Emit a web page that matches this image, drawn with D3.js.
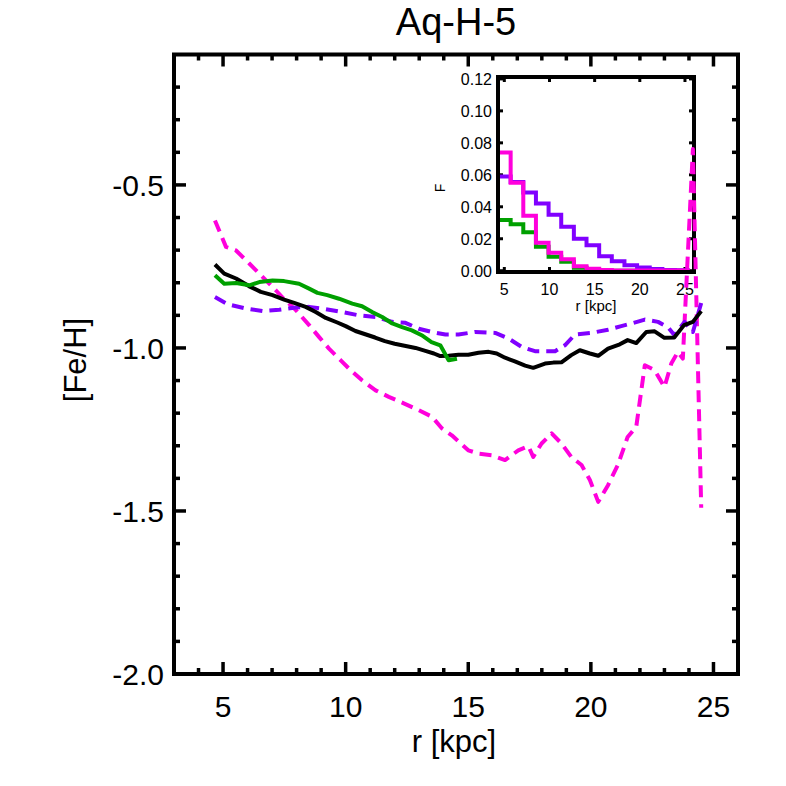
<!DOCTYPE html>
<html><head><meta charset="utf-8">
<script src="https://cdn.jsdelivr.net/npm/d3@7/dist/d3.min.js"></script>
<style>
body{margin:0;background:#fff;}
text{font-family:"Liberation Sans",Arial,Helvetica,sans-serif;fill:#000;}
</style></head>
<body><svg id="c" width="786" height="786"></svg>
<script>
// ---------- data ----------
const title = "Aq-H-5";
const xTicksMain = [5, 10, 15, 20, 25];
const yTicksMain = [-2.0, -1.5, -1.0, -0.5];
const yTickLabels = ["-2.0", "-1.5", "-1.0", "-0.5"];

const rBlack = [4.67,5.05,5.53,6.07,6.54,7.02,7.49,7.90,8.37,8.78,9.19,9.66,10.0,10.4,10.8,11.2,11.6,12.0,12.4,12.85,13.25,13.6,13.86,14.2,14.6,15.0,15.42,15.83,16.16,16.5,16.9,17.32,17.65,18.13,18.47,18.8,19.2,19.55,19.96,20.3,20.7,21.18,21.5,21.85,22.26,22.6,23.0,23.4,23.8,24.16,24.5];
const feBlack = [-0.744,-0.772,-0.787,-0.811,-0.828,-0.838,-0.852,-0.862,-0.874,-0.890,-0.908,-0.922,-0.933,-0.948,-0.958,-0.968,-0.979,-0.987,-0.993,-1.000,-1.009,-1.017,-1.025,-1.024,-1.021,-1.021,-1.015,-1.012,-1.017,-1.030,-1.041,-1.054,-1.061,-1.048,-1.045,-1.044,-1.022,-1.007,-1.017,-1.024,-1.002,-0.989,-0.976,-0.985,-0.951,-0.949,-0.969,-0.968,-0.930,-0.920,-0.887];

const rGreen = [4.67,5.05,5.53,6.07,6.48,7.02,7.49,8.10,8.51,8.85,9.25,9.73,10.27,10.67,11.08,11.49,11.9,12.3,12.7,13.1,13.5,13.86,14.2,14.54];
const feGreen = [-0.777,-0.803,-0.801,-0.808,-0.798,-0.793,-0.795,-0.803,-0.818,-0.831,-0.838,-0.849,-0.864,-0.872,-0.890,-0.905,-0.925,-0.936,-0.946,-0.961,-0.982,-0.992,-1.038,-1.033];

const rPurple = [4.67,5.19,5.93,6.61,7.29,7.97,8.51,9.19,9.86,10.54,11.22,11.9,12.44,12.98,13.52,14.07,14.6,15.28,16.1,16.64,17.18,17.72,18.54,18.94,19.35,20.02,20.7,21.24,21.65,22.2,22.74,23.14,23.41,23.82,24.16,24.5];
const fePurple = [-0.844,-0.866,-0.879,-0.887,-0.883,-0.876,-0.874,-0.881,-0.890,-0.900,-0.905,-0.920,-0.923,-0.941,-0.951,-0.959,-0.959,-0.951,-0.954,-0.971,-0.997,-1.010,-1.010,-0.992,-0.959,-0.954,-0.944,-0.933,-0.925,-0.913,-0.920,-0.936,-0.961,-0.920,-0.951,-0.862];

const rMagenta = [4.67,5.12,5.53,6.07,6.61,7.15,7.42,7.97,8.51,8.91,9.32,9.80,10.2,10.67,11.22,11.76,12.37,12.98,13.52,13.93,14.33,15.0,15.42,15.96,16.5,17.04,17.45,17.65,17.99,18.4,18.8,19.2,19.62,19.96,20.3,20.7,21.1,21.5,21.85,22.2,22.6,23.0,23.28,23.55,23.75,24.16,24.5];
const feMagenta = [-0.609,-0.690,-0.701,-0.741,-0.782,-0.823,-0.845,-0.884,-0.930,-0.966,-1.002,-1.038,-1.068,-1.099,-1.130,-1.150,-1.170,-1.191,-1.211,-1.247,-1.268,-1.314,-1.324,-1.329,-1.344,-1.314,-1.301,-1.334,-1.293,-1.262,-1.293,-1.334,-1.359,-1.405,-1.472,-1.421,-1.359,-1.273,-1.242,-1.053,-1.068,-1.120,-1.048,-1.012,-1.033,-0.390,-1.490];

// inset histogram
const binEdges = [4.3,5.7,7.1,8.5,9.9,11.3,12.7,14.1,15.5,16.9,18.3,19.7,21.1,22.5,23.9,25.3];
const histPurple  = [0.059,0.0555,0.049,0.042,0.035,0.0275,0.020,0.016,0.009,0.006,0.0035,0.002,0.001,0.0005,0.0003];
const histGreen   = [0.0317,0.029,0.024,0.015,0.0088,0.0056,0.0018,0.0006,0.0002,0,0,0,0,0,0];
const histMagenta = [0.0739,0.0551,0.0344,0.0175,0.0113,0.0071,0.0028,0.0012,0.0005,0.0002,0.0001,0.0001,0.0001,0.0001,0.0001];
const insetXTicks = [5, 10, 15, 20, 25];
const insetYTicks = [0, 0.02, 0.04, 0.06, 0.08, 0.10, 0.12];

// ---------- styling ----------
const C_BLACK = "#000000", C_GREEN = "#00a000", C_PURPLE = "#8000ff", C_MAGENTA = "#ff00dc";
const svg = d3.select("#c");
const L = 174, R = 738, T = 54.5, B = 674;
const x = d3.scaleLinear().domain([3, 26]).range([L, R]);
const y = d3.scaleLinear().domain([-2.0, -0.1]).range([B, T]);

// ---------- main frame & ticks ----------
const g = svg.append("g");
function tickLines(vals, orient, len) {
  vals.forEach(v => {
    if (orient === "x") {
      g.append("line").attr("x1", x(v)).attr("x2", x(v)).attr("y1", B).attr("y2", B - len)
        .attr("stroke", "#000").attr("stroke-width", 3.5);
      g.append("line").attr("x1", x(v)).attr("x2", x(v)).attr("y1", T).attr("y2", T + len)
        .attr("stroke", "#000").attr("stroke-width", 3.5);
    } else {
      g.append("line").attr("y1", y(v)).attr("y2", y(v)).attr("x1", L).attr("x2", L + len)
        .attr("stroke", "#000").attr("stroke-width", 3.5);
      g.append("line").attr("y1", y(v)).attr("y2", y(v)).attr("x1", R).attr("x2", R - len)
        .attr("stroke", "#000").attr("stroke-width", 3.5);
    }
  });
}
const xMinor = d3.range(4, 26, 1).filter(v => v % 5 !== 0);
const yMinor = d3.range(-19, -1, 1).map(v => v / 10).filter(v => Math.abs(v * 2 - Math.round(v * 2)) > 1e-6);
tickLines(xTicksMain, "x", 12);
tickLines(xMinor, "x", 6);
tickLines(yTicksMain, "y", 12);
tickLines(yMinor, "y", 6);

g.append("rect").attr("x", L).attr("y", T).attr("width", R - L).attr("height", B - T)
  .attr("fill", "none").attr("stroke", "#000").attr("stroke-width", 4);

svg.selectAll(".xl").data(xTicksMain).enter().append("text")
  .attr("x", d => x(d)).attr("y", 717).attr("text-anchor", "middle")
  .attr("font-size", 30).text(d => d);
svg.selectAll(".yl").data(yTicksMain).enter().append("text")
  .attr("x", 164).attr("y", d => y(d) + 11).attr("text-anchor", "end")
  .attr("font-size", 30).text((d, i) => yTickLabels[i]);

svg.append("text").attr("x", 456).attr("y", 35).attr("text-anchor", "middle")
  .attr("font-size", 38).text(title);
svg.append("text").attr("x", 454).attr("y", 752).attr("text-anchor", "middle")
  .attr("font-size", 31).text("r [kpc]");
svg.append("text").attr("transform", "translate(86,360) rotate(-90)").attr("text-anchor", "middle")
  .attr("font-size", 31).text("[Fe/H]");

// ---------- inset ----------
const iL = 498, iR = 694, iT = 77, iB = 272;
const ix = d3.scaleLinear().domain([4.3, 26]).range([iL, iR]);
const iy = d3.scaleLinear().domain([-0.0008, 0.1212]).range([iB, iT]);
const gi = svg.append("g");
insetXTicks.forEach(v => {
  gi.append("line").attr("x1", ix(v)).attr("x2", ix(v)).attr("y1", iB).attr("y2", iB - 5).attr("stroke", "#000").attr("stroke-width", 3);
  gi.append("line").attr("x1", ix(v)).attr("x2", ix(v)).attr("y1", iT).attr("y2", iT + 5).attr("stroke", "#000").attr("stroke-width", 3);
});
insetYTicks.forEach(v => {
  gi.append("line").attr("y1", iy(v)).attr("y2", iy(v)).attr("x1", iL).attr("x2", iL + 5).attr("stroke", "#000").attr("stroke-width", 3);
  gi.append("line").attr("y1", iy(v)).attr("y2", iy(v)).attr("x1", iR).attr("x2", iR - 5).attr("stroke", "#000").attr("stroke-width", 3);
});
gi.selectAll(".ixl").data(insetXTicks).enter().append("text")
  .attr("x", d => ix(d)).attr("y", 295).attr("text-anchor", "middle").attr("font-size", 16).text(d => d);
gi.selectAll(".iyl").data(insetYTicks).enter().append("text")
  .attr("x", 492).attr("y", d => iy(d) + 6).attr("text-anchor", "end").attr("font-size", 16)
  .text(d => d.toFixed(2));
gi.append("text").attr("x", 596).attr("y", 311).attr("text-anchor", "middle").attr("font-size", 15).text("r [kpc]");
gi.append("text").attr("transform", "translate(445,188) rotate(-90)").attr("text-anchor", "middle").attr("font-size", 14).text("F");

function stepPts(vals) {
  const pts = [[binEdges[0], 0]];
  vals.forEach((v, i) => { pts.push([binEdges[i], v]); pts.push([binEdges[i + 1], v]); });
  pts.push([binEdges[binEdges.length - 1], 0]);
  return pts;
}
const hline = d3.line().x(d => ix(d[0])).y(d => iy(d[1]));
[[histGreen, C_GREEN], [histPurple, C_PURPLE], [histMagenta, C_MAGENTA]].forEach(([vals, col]) => {
  gi.append("path").attr("d", hline(stepPts(vals))).attr("fill", "none")
    .attr("stroke", col).attr("stroke-width", 4).attr("stroke-linejoin", "miter");
});
gi.append("rect").attr("x", iL).attr("y", iT).attr("width", iR - iL).attr("height", iB - iT)
  .attr("fill", "none").attr("stroke", "#000").attr("stroke-width", 4);

// ---------- main lines ----------
const line = d3.line().x(d => x(d[0])).y(d => y(d[1]));
function series(rs, fs, col, dash) {
  const p = svg.append("path").attr("d", line(rs.map((r, i) => [r, fs[i]])))
    .attr("fill", "none").attr("stroke", col).attr("stroke-width", 4).attr("stroke-linejoin", "round");
  if (dash) p.attr("stroke-dasharray", dash);
}
series(rMagenta, feMagenta, C_MAGENTA, "12,7");
series(rPurple, fePurple, C_PURPLE, "12,7");
series(rBlack, feBlack, C_BLACK, null);
series(rGreen, feGreen, C_GREEN, null);
</script></body></html>
